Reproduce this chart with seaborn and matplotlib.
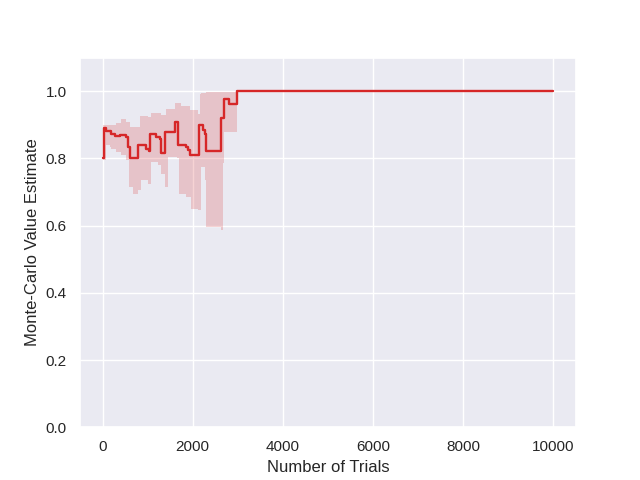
import numpy as np
import matplotlib
matplotlib.use("Agg")
import matplotlib.pyplot as plt
import seaborn as sns

# Mean estimate (step points)
line_trials = [0, 22, 81, 178, 267, 378, 511, 563, 615, 785, 955, 1030, 1059,
               1192, 1266, 1304, 1378, 1600, 1674, 1859, 1896, 1933, 2141,
               2230, 2266, 2289, 2637, 2696, 2807, 2992, 10000]
line_values = [0.80, 0.889, 0.881, 0.874, 0.866, 0.871, 0.864, 0.834, 0.800,
               0.839, 0.829, 0.821, 0.872, 0.864, 0.859, 0.816, 0.879, 0.909,
               0.841, 0.834, 0.824, 0.810, 0.899, 0.884, 0.874, 0.822, 0.919,
               0.978, 0.963, 1.0, 1.0]

# Confidence band
band_trials = [0, 81, 155, 192, 304, 415, 526, 585, 600, 674, 785, 822, 859,
               1007, 1081, 1230, 1304, 1378, 1400, 1452, 1600, 1652, 1696,
               1748, 1859, 1933, 1970, 2118, 2155, 2192, 2266, 2304, 2637,
               2674, 2696, 2992, 10000]
band_lower = [0.795, 0.839, 0.834, 0.829, 0.819, 0.810, 0.795, 0.715, 0.715,
              0.695, 0.705, 0.705, 0.735, 0.725, 0.790, 0.780, 0.755, 0.715,
              0.715, 0.804, 0.804, 0.800, 0.695, 0.695, 0.685, 0.685, 0.650,
              0.645, 0.645, 0.775, 0.735, 0.596, 0.586, 0.785, 0.879, 1.0, 1.0]
band_upper = [0.899, 0.899, 0.899, 0.899, 0.904, 0.916, 0.909, 0.909, 0.894,
              0.894, 0.894, 0.925, 0.925, 0.923, 0.935, 0.935, 0.928, 0.928,
              0.948, 0.948, 0.965, 0.965, 0.965, 0.955, 0.955, 0.943, 0.943,
              0.933, 0.993, 0.995, 0.995, 0.997, 0.997, 0.998, 0.998, 1.0, 1.0]

sns.set_theme(style="darkgrid")
plt.rcParams['font.family'] = ['Liberation Sans', 'DejaVu Sans']
color = "#d62728"

fig, ax = plt.subplots(figsize=(6.4, 4.8), dpi=100)
ax.fill_between(band_trials, band_lower, band_upper, step="post",
                color=color, alpha=0.2, linewidth=0)
sns.lineplot(x=line_trials, y=line_values, drawstyle="steps-post",
             color=color, linewidth=1.7, ax=ax)

ax.set_ylim(0, 1.1)
ax.set_yticks(np.arange(0, 1.01, 0.2))
ax.set_xlabel("Number of Trials")
ax.set_ylabel("Monte-Carlo Value Estimate")

plt.savefig("out.png")
